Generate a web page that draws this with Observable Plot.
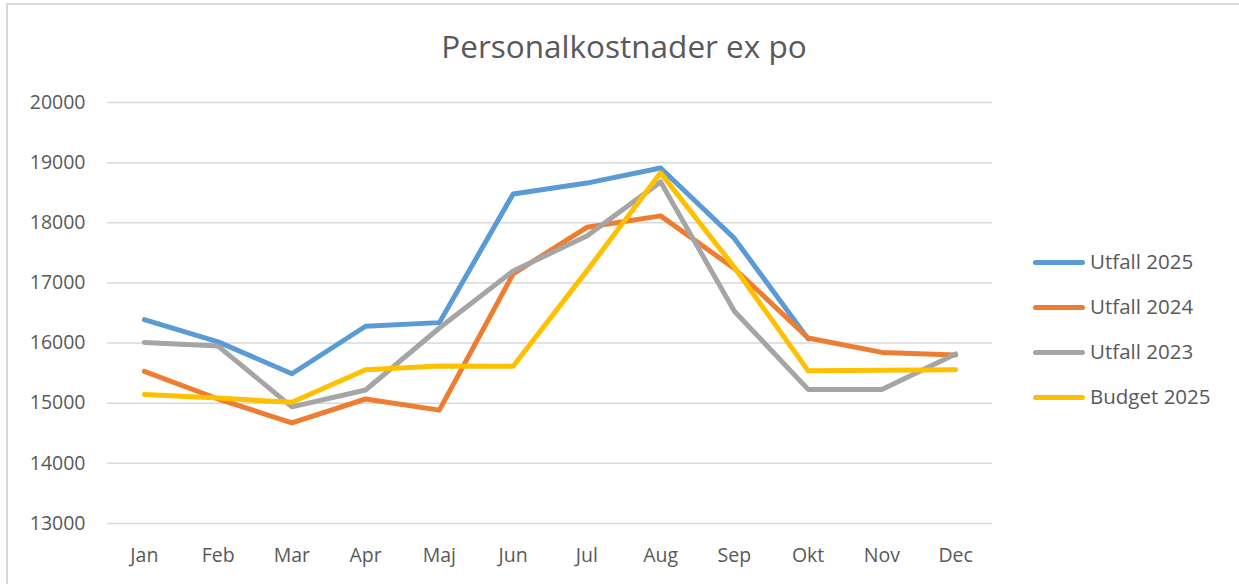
<!DOCTYPE html>
<html>
<head>
<meta charset="utf-8">
<script src="https://cdn.jsdelivr.net/npm/d3@7"></script>
<script src="https://cdn.jsdelivr.net/npm/@observablehq/plot@0.6"></script>
<style>
  html, body { margin: 0; padding: 0; background: #fff; }
  #wrap { position: relative; width: 1239px; height: 584px; overflow: hidden; font-family: "Open Sans", sans-serif; color: #595959; }
  #frame { position: absolute; left: 6px; top: 3px; width: 1300px; height: 700px; border: 2px solid #d9d9d9; box-sizing: border-box; }
  #title { position: absolute; left: 0; top: 24px; width: 1248px; text-align: center; font-size: 31.5px; color: #595959; }
  #chart { position: absolute; left: 0; top: 0; }
  #legend { position: absolute; left: 1031px; top: 0; }
  .item { position: absolute; left: 0; white-space: nowrap; font-size: 20.5px; color: #595959; }
  .swatch { position: absolute; left: 2px; width: 52px; height: 5px; border-radius: 3px; }
  .lbl { position: absolute; left: 59px; }
</style>
</head>
<body>
<div id="wrap">
  <div id="frame"></div>
  <div id="chart"></div>
  <div id="title">Personalkostnader ex po</div>
  <div id="legend"></div>
</div>
<script>
const months = ["Jan","Feb","Mar","Apr","Maj","Jun","Jul","Aug","Sep","Okt","Nov","Dec"];
const seriesNames = ["Utfall 2025","Utfall 2024","Utfall 2023","Budget 2025"];
const seriesColors = ["#5B9BD5","#ED7D31","#A5A5A5","#FFC000"];
const utfall2025 = [16390, 16020, 15490, 16280, 16340, 18480, 18660, 18910, 17740, 16070, null, null];
const utfall2024 = [15530, 15070, 14675, 15070, 14885, 17150, 17925, 18115, 17240, 16085, 15845, 15800];
const utfall2023 = [16010, 15950, 14940, 15220, 16250, 17200, 17780, 18680, 16530, 15230, 15230, 15820];
const budget2025 = [15145, 15085, 15015, 15555, 15620, 15615, 17200, 18830, 17260, 15540, 15550, 15555];
const yTicks = [13000, 14000, 15000, 16000, 17000, 18000, 19000, 20000];

const allSeries = [utfall2025, utfall2024, utfall2023, budget2025];
const rows = [];
allSeries.forEach((vals, si) => {
  months.forEach((m, i) => {
    if (vals[i] != null) rows.push({series: seriesNames[si], month: m, value: vals[i]});
  });
});

const plot = Plot.plot({
  width: 1239,
  height: 584,
  marginTop: 102,
  marginBottom: 61,
  marginLeft: 107,
  marginRight: 247,
  style: { fontFamily: "Open Sans, sans-serif", fontSize: "19.5px", color: "#595959", background: "transparent" },
  x: { type: "point", domain: months, padding: 0.5, round: false, label: null },
  y: { domain: [13000, 20000], label: null },
  color: { domain: seriesNames, range: seriesColors },
  marks: [
    Plot.ruleY(yTicks, { stroke: "#d9d9d9", strokeWidth: 1.5 }),
    Plot.axisY(yTicks, { tickSize: 0, tickPadding: 22, label: null, tickFormat: d => String(d), fill: "#595959" }),
    Plot.axisX(months, { tickSize: 0, tickPadding: 25, label: null, fill: "#595959" }),
    ...seriesNames.map(name => Plot.line(rows.filter(r => r.series === name), {
      x: "month", y: "value", stroke: seriesColors[seriesNames.indexOf(name)],
      strokeWidth: 5, strokeLinecap: "round", strokeLinejoin: "round"
    }))
  ]
});
document.getElementById("chart").appendChild(plot);

const legendY = [262, 307, 352, 397];
const legend = document.getElementById("legend");
seriesNames.forEach((name, i) => {
  const item = document.createElement("div");
  item.className = "item";
  item.style.top = (legendY[i] - 15) + "px";
  item.innerHTML = `<div class="swatch" style="background:${seriesColors[i]};top:13px"></div><div class="lbl">${name}</div>`;
  legend.appendChild(item);
});
</script>
</body>
</html>
